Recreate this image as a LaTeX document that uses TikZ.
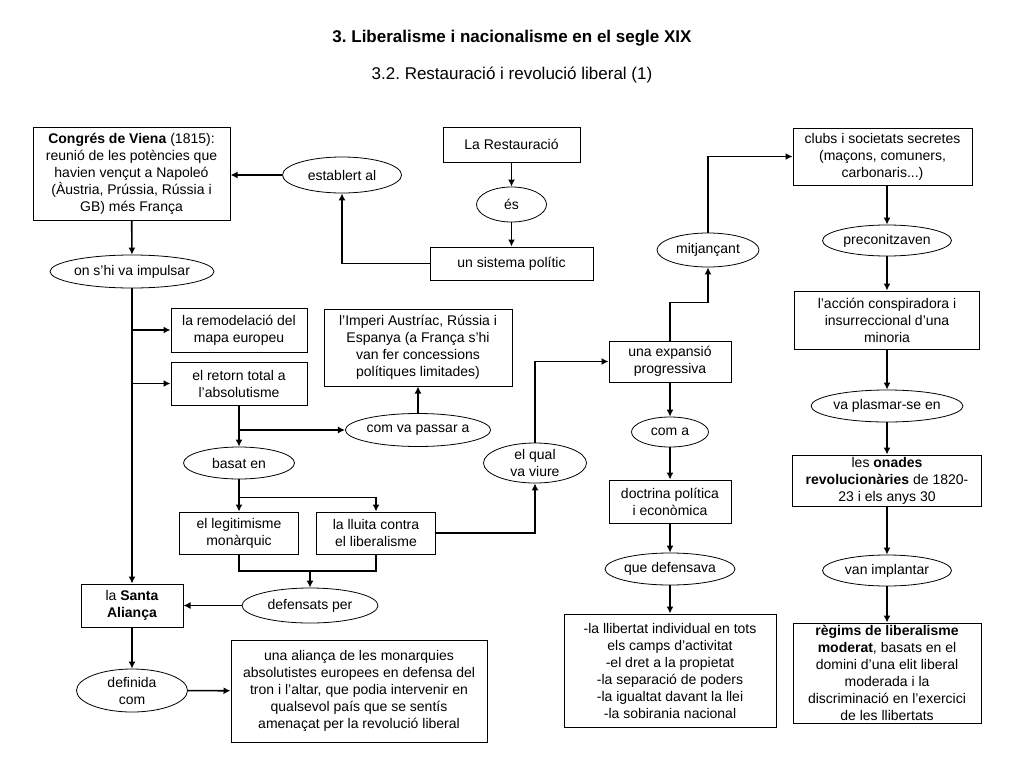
\documentclass[tikz,border=0pt]{standalone}
\usepackage{fontspec}
\setmainfont{Liberation Sans}
\frenchspacing
\usetikzlibrary{arrows, arrows.meta, positioning, shapes.geometric}
\tikzset{
    >={Latex[length=7pt,width=7pt]}, % filled arrow heads
    concept/.style={draw, rectangle, line width=1pt, align=center, inner sep=1pt,
        font=\fontsize{14}{17}\selectfont}, % boxes with the ideas
    link/.style={draw, ellipse, line width=0.8pt, align=center, inner sep=0pt,
        font=\fontsize{14}{17}\selectfont}, % ellipses with the linking words
    arrow/.style={line width=1.6pt, ->}, % connectors
    plain/.style={line width=1.6pt}, % connectors without head
}

\begin{document}
\begin{tikzpicture}[x=1pt, y=-1pt]
    \useasboundingbox (0,0) rectangle (1024,768);

    % titles
    \node (title) at (512,38) {\fontsize{17}{20}\selectfont\bfseries 3. Liberalisme i nacionalisme en el segle XIX};
    \node (subtitle) at (512,75) {\fontsize{17}{20}\selectfont 3.2. Restauració i revolució liberal (1)};

    % left column
    \node[concept, minimum width=197pt, minimum height=93pt] (viena) at (131.5,173.5)
        {\textbf{Congrés de Viena} (1815):\\reunió de les potències que\\havien vençut a Napoleó\\(Àustria, Prússia, Rússia i\\GB) més França};
    \node[link, minimum width=119pt, minimum height=36pt] (establert) at (342,175) {establert al};
    \node[concept, minimum width=137pt, minimum height=35pt] (rest) at (511.5,144.5) {La Restauració};
    \node[link, minimum width=70pt, minimum height=35pt] (es) at (511.5,204.5) {és};
    \node[concept, minimum width=163pt, minimum height=33pt] (sistema) at (511.5,263.5) {un sistema polític};
    \node[link, minimum width=149pt, minimum height=33pt] (impulsar) at (132,271.5) {on s’hi va impulsar};

    \node[concept, minimum width=136pt, minimum height=44pt] (remod) at (239,330) {la remodelació del\\mapa europeu};
    \node[concept, minimum width=136pt, minimum height=43pt] (retorn) at (239,383.5) {el retorn total a\\l’absolutisme};
    \node[concept, minimum width=188pt, minimum height=77pt] (imperi) at (418,347.5)
        {l’Imperi Austríac, Rússia i\\Espanya (a França s’hi\\van fer concessions\\polítiques limitades)};
    \node[link, minimum width=120pt, minimum height=33pt] (passar) at (418,430) {com va passar a};
    \node[link, minimum width=111pt, minimum height=32pt] (basat) at (239,463) {basat en};
    \node[concept, minimum width=119pt, minimum height=42pt] (legit) at (239,533) {el legitimisme\\monàrquic};
    \node[concept, minimum width=119pt, minimum height=42pt] (lluita) at (376,533) {la lluita contra\\el liberalisme};
    \node[link, minimum width=136pt, minimum height=35pt] (defensats) at (310,605.5) {defensats per};
    \node[concept, minimum width=102pt, minimum height=43pt] (santa) at (132,605.5) {la \textbf{Santa}\\\textbf{Aliança}};
    \node[link, minimum width=111pt, minimum height=43pt] (definida) at (132,690.5) {definida\\com};
    \node[concept, minimum width=256pt, minimum height=102pt] (alianca) at (359,691)
        {una aliança de les monarquies\\absolutistes europees en defensa del\\tron i l’altar, que podia intervenir en\\qualsevol país que se sentís\\amenaçat per la revolució liberal};

    % middle column
    \node[link, minimum width=103pt, minimum height=40pt] (qual) at (535,463) {el qual\\va viure};
    \node[concept, minimum width=122pt, minimum height=41pt] (expansio) at (670,361.5) {una expansió\\progressiva};
    \node[link, minimum width=102pt, minimum height=34pt] (mitjancant) at (708,250) {mitjançant};
    \node[link, minimum width=77pt, minimum height=30pt] (coma) at (670,432) {com a};
    \node[concept, minimum width=122pt, minimum height=43pt] (doctrina) at (670,501.5) {doctrina política\\i econòmica};
    \node[link, minimum width=121pt, minimum height=32pt] (defensava) at (670,569) {que defensava};
    \node[concept, minimum width=212pt, minimum height=113pt] (llista) at (670,670.5)
        {-la llibertat individual en tots\\els camps d’activitat\\-el dret a la propietat\\-la separació de poders\\-la igualtat davant la llei\\-la sobirania nacional};

    % right column
    \node[concept, minimum width=179pt, minimum height=57pt] (clubs) at (882.5,156.5)
        {clubs i societats secretes\\(maçons, comuners,\\carbonaris...)};
    \node[link, minimum width=129pt, minimum height=31pt] (preconitz) at (887,240.5) {preconitzaven};
    \node[concept, minimum width=185pt, minimum height=58pt] (accio) at (887,320)
        {l’acción conspiradora i\\insurreccional d’una\\minoria};
    \node[link, minimum width=147pt, minimum height=32pt] (plasmar) at (887,406) {va plasmar-se en};
    \node[concept, minimum width=189pt, minimum height=51pt] (onades) at (887,480.5)
        {les \textbf{onades}\\\textbf{revolucionàries} de 1820-\\23 i els anys 30};
    \node[link, minimum width=129pt, minimum height=31pt] (implantar) at (887,570.5) {van implantar};
    \node[concept, minimum width=188pt, minimum height=100pt] (regims) at (887,673)
        {\textbf{règims de liberalisme}\\\textbf{moderat}, basats en el\\domini d’una elit liberal\\moderada i la\\discriminació en l’exercici\\de les llibertats};

    % connectors, left part
    \draw[arrow] (establert) -- (establert -| viena.east);
    \draw[arrow] (rest) -- (es);
    \draw[arrow] (es) -- (sistema);
    \draw[arrow] (sistema.west) -| (establert.south);
    \draw[arrow] (viena) -- (impulsar);
    \draw[arrow] (impulsar.south) -- (santa.north);
    \draw[arrow] (impulsar.south |- remod) -- (remod);
    \draw[arrow] (impulsar.south |- retorn) -- (retorn);
    \draw[arrow] (retorn) -- (basat);
    \draw[arrow] (retorn.south |- passar) -- (passar);
    \draw[arrow] (passar) -- (imperi);
    \draw[arrow] (basat) -- (legit);
    \draw[arrow] (basat.south) -- ++(0,18) -| (lluita.north);
    \coordinate (junta) at (310,571);
    \draw[plain] (legit.south) |- (junta) -| (lluita.south);
    \draw[arrow] (junta) -- (defensats);
    \draw[arrow] (defensats) -- (santa);
    \draw[arrow] (santa) -- (definida);
    \draw[arrow] (definida) -- (alianca);

    % connectors, middle and right part
    \draw[arrow] (lluita.east) -| (qual.south);
    \draw[arrow] (qual.north) |- (expansio.west);
    \draw[arrow] (expansio.north) -- ++(0,-38) -| (mitjancant.south);
    \draw[arrow] (mitjancant.north) |- (clubs.west);
    \draw[arrow] (expansio) -- (coma);
    \draw[arrow] (coma) -- (doctrina);
    \draw[arrow] (doctrina) -- (defensava);
    \draw[arrow] (defensava) -- (llista);
    \draw[arrow] (clubs.south -| preconitz) -- (preconitz);
    \draw[arrow] (preconitz) -- (accio);
    \draw[arrow] (accio) -- (plasmar);
    \draw[arrow] (plasmar) -- (onades);
    \draw[arrow] (onades) -- (implantar);
    \draw[arrow] (implantar) -- (regims);
\end{tikzpicture}
\end{document}
